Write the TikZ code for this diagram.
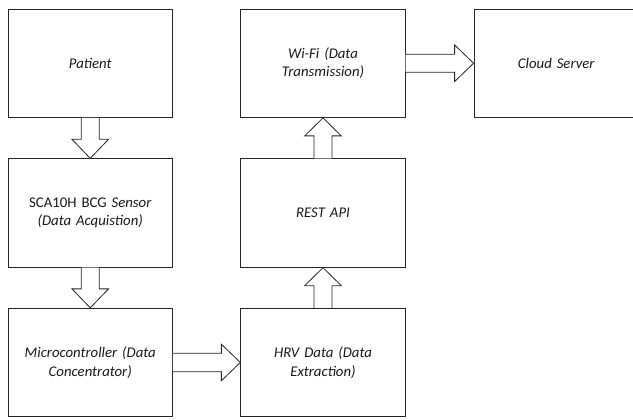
\documentclass[tikz,border=0pt]{standalone}
\usepackage{fontspec}
\setmainfont{Carlito}
\usetikzlibrary{calc}
\tikzset{
  blk/.style={draw=black!85, line width=0.8pt},
  stagebox/.style={blk, rectangle, minimum width=164.5pt, minimum height=108.5pt,
    inner sep=0pt, text width=160pt, align=center, text=black!90,
    font=\fontsize{14.8}{18.3}\selectfont\itshape},
  barrow/.style={blk, fill=white, line join=miter}
}
\begin{document}
\begin{tikzpicture}[x=1pt, y=-1pt]
\useasboundingbox (0,0) rectangle (633,420);
\clip (0,0) rectangle (633,420);
\node[stagebox] (patient) at (90.25,63.25) {Patient};
\node[stagebox] (sensor) at (90.25,213) {\upshape SCA10H BCG \itshape Sensor\\(Data Acquistion)};
\node[stagebox] (micro) at (90.25,362.5) {Microcontroller (Data\\Concentrator)};
\node[stagebox] (hrv) at (323,362.5) {HRV Data (Data\\Extraction)};
\node[stagebox] (rest) at (323,213) {REST API};
\node[stagebox] (wifi) at (323,63.25) {Wi-Fi (Data\\Transmission)};
\node[stagebox] (cloud) at (556.25,63.25) {Cloud Server};
% down arrows
\draw[barrow] ($(patient.south)+(-9,0)$) -- ($(sensor.north)+(-9,-19)$) -- ($(sensor.north)+(-18.3,-19)$) -- (sensor.north) -- ($(sensor.north)+(18.3,-19)$) -- ($(sensor.north)+(9,-19)$) -- ($(patient.south)+(9,0)$);
\draw[barrow] ($(sensor.south)+(-9,0)$) -- ($(micro.north)+(-9,-19)$) -- ($(micro.north)+(-18.3,-19)$) -- (micro.north) -- ($(micro.north)+(18.3,-19)$) -- ($(micro.north)+(9,-19)$) -- ($(sensor.south)+(9,0)$);
% right arrows
\draw[barrow] ($(micro.east)+(0,-9.3)$) -- ($(hrv.west)+(-19,-9.3)$) -- ($(hrv.west)+(-19,-18.3)$) -- (hrv.west) -- ($(hrv.west)+(-19,18.3)$) -- ($(hrv.west)+(-19,9.3)$) -- ($(micro.east)+(0,9.3)$);
\draw[barrow] ($(wifi.east)+(0,-9)$) -- ($(cloud.west)+(-19,-9)$) -- ($(cloud.west)+(-19,-18.3)$) -- (cloud.west) -- ($(cloud.west)+(-19,18.3)$) -- ($(cloud.west)+(-19,9)$) -- ($(wifi.east)+(0,9)$);
% up arrows
\draw[barrow] ($(hrv.north)+(-9,0)$) -- ($(rest.south)+(-9,18)$) -- ($(rest.south)+(-18.3,18)$) -- (rest.south) -- ($(rest.south)+(18.3,18)$) -- ($(rest.south)+(9,18)$) -- ($(hrv.north)+(9,0)$);
\draw[barrow] ($(rest.north)+(-9,0)$) -- ($(wifi.south)+(-9,18)$) -- ($(wifi.south)+(-18.3,18)$) -- (wifi.south) -- ($(wifi.south)+(18.3,18)$) -- ($(wifi.south)+(9,18)$) -- ($(rest.north)+(9,0)$);
\end{tikzpicture}
\end{document}
